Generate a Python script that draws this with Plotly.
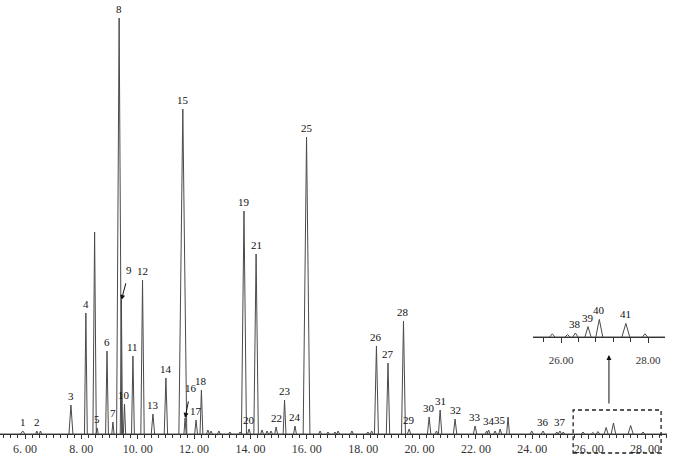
import plotly.graph_objects as go

# ---------------- data ----------------
peak_labels = [str(i) for i in range(1, 42)]
peak_times = [5.92, 6.42, 7.63, 8.16, 8.56, 8.91, 9.12, 9.34, 9.42, 9.53,
              9.83, 10.17, 10.54, 11.00, 11.60, 11.68, 12.07, 12.26, 13.77, 13.95,
              14.20, 14.91, 15.21, 15.58, 15.99, 18.47, 18.88, 19.43, 19.63, 20.34,
              20.73, 21.26, 21.97, 22.45, 22.86, 24.38, 24.98, 26.33, 26.62, 26.88, 27.49]
peak_heights = [3, 3, 29, 121, 6, 83, 12, 416, 134, 30,
                78, 154, 20, 56, 325, 16, 14, 44, 223, 5,
                180, 7, 34, 8, 297, 88, 71, 113, 5, 17,
                24, 15, 8, 4, 5, 3, 3, 2.5, 6.5, 11, 8.5]
peak_halfwidths = [0.08, 0.04, 0.07, 0.05, 0.04, 0.05, 0.04, 0.09, 0.04, 0.04,
                   0.05, 0.06, 0.06, 0.06, 0.14, 0.04, 0.05, 0.05, 0.09, 0.05,
                   0.08, 0.05, 0.05, 0.05, 0.12, 0.07, 0.06, 0.07, 0.06, 0.06,
                   0.06, 0.06, 0.06, 0.05, 0.05, 0.06, 0.06, 0.06, 0.07, 0.08, 0.09]

# unlabeled peaks / baseline bumps
minor_times = [6.55, 8.47, 12.49, 12.60, 12.88, 13.27, 13.63, 14.41, 14.59, 14.73,
               16.47, 16.75, 17.00, 17.11, 17.60, 18.17, 18.30, 20.60, 22.38, 22.68,
               23.14, 23.98, 24.87, 25.10, 25.80, 26.15, 27.93]
minor_heights = [3, 202, 4, 3, 3, 2, 2, 4, 3, 3,
                 3, 2, 2, 3, 3, 2, 3, 3, 3, 3,
                 17, 3, 2, 2, 2, 1.5, 2]
minor_halfwidths = [0.04, 0.06, 0.05, 0.05, 0.05, 0.05, 0.05, 0.05, 0.05, 0.05,
                    0.05, 0.05, 0.05, 0.05, 0.05, 0.05, 0.05, 0.05, 0.05, 0.05,
                    0.05, 0.06, 0.05, 0.05, 0.06, 0.06, 0.06]

main_tick_vals = [6, 8, 10, 12, 14, 16, 18, 20, 22, 24, 26, 28]
main_tick_text = ["6. 00", "8. 00", "10. 00", "12. 00", "14. 00", "16. 00",
                  "18. 00", "20. 00", "22. 00", "24. 00", "26. 00", "28. 00"]
inset_tick_vals = [26, 28]
inset_tick_text = ["26.00", "28.00"]
inset_labels = ["38", "39", "40", "41"]

# ---------------- build trace ----------------
all_t = peak_times + minor_times
all_h = peak_heights + minor_heights
all_w = peak_halfwidths + minor_halfwidths
order = sorted(range(len(all_t)), key=lambda i: all_t[i])
xs, ys = [], []
for i in order:
    t, h, w = all_t[i], all_h[i], all_w[i]
    xs += [t - w, t, t + w, None]
    ys += [0, h, 0, None]

X_RANGE = [5.113, 28.78]
Y_RANGE = [0, 434]
INSET_X = [25.356, 28.39]
INSET_SCALE = 1.6
LINE = "#4a4a4a"
SERIF = "Liberation Serif, Times New Roman, serif"

fig = go.Figure()
for xa, ya in (("x", "y"), ("x2", "y2")):
    fig.add_trace(go.Scatter(x=[X_RANGE[0], X_RANGE[1]], y=[0, 0], mode="lines",
                             line=dict(color=LINE, width=1), xaxis=xa, yaxis=ya,
                             hoverinfo="skip", showlegend=False))
    fig.add_trace(go.Scatter(x=xs, y=ys, mode="lines", connectgaps=False,
                             line=dict(color=LINE, width=1), xaxis=xa, yaxis=ya,
                             showlegend=False))

annotations = []
arrow_labels = {"9": (8, -30), "16": (6, -30)}
for lab, t, h in zip(peak_labels, peak_times, peak_heights):
    if lab in inset_labels:
        continue
    if lab in arrow_labels:
        ax, ay = arrow_labels[lab]
        annotations.append(dict(x=t, y=h, xref="x", yref="y", text=lab,
                                showarrow=True, ax=ax, ay=ay, arrowhead=2,
                                arrowsize=1, arrowwidth=1, arrowcolor="#111",
                                standoff=0, startstandoff=6,
                                font=dict(family=SERIF, size=11, color="#111")))
    else:
        annotations.append(dict(x=t, y=h, xref="x", yref="y", text=lab,
                                showarrow=False, yanchor="bottom", yshift=1,
                                font=dict(family=SERIF, size=11, color="#111")))
for lab, t, h in zip(peak_labels, peak_times, peak_heights):
    if lab in inset_labels:
        annotations.append(dict(x=t, y=h, xref="x2", yref="y2",
                                text=lab, showarrow=False, yanchor="bottom", yshift=1,
                                font=dict(family=SERIF, size=11, color="#111")))

# arrow from dashed box up to the inset
annotations.append(dict(x=26.72, y=79, xref="x", yref="y", ax=26.72, ay=29,
                        axref="x", ayref="y", text="", showarrow=True,
                        arrowhead=2, arrowsize=1, arrowwidth=1, arrowcolor="#111"))

def px(t):
    return (t - X_RANGE[0]) / (X_RANGE[1] - X_RANGE[0])

shapes = [dict(type="rect", xref="paper", yref="paper",
               x0=px(25.45), x1=px(28.57), y0=-19 / 434, y1=24 / 434,
               line=dict(color="#222", width=1.3, dash="4px,3px"))]

inset_y_bottom = (434 - 337) / 434
inset_y_top = (434 - 290) / 434
inset_h_px = 47

fig.update_layout(
    width=675, height=457,
    margin=dict(l=0, r=8, t=0, b=23),
    paper_bgcolor="white", plot_bgcolor="rgba(0,0,0,0)",
    showlegend=False,
    xaxis=dict(range=X_RANGE, showgrid=False, zeroline=False, showline=True,
               linecolor="#333", linewidth=1, ticks="outside", ticklen=4,
               tickcolor="#333", tickmode="array", tickvals=main_tick_vals,
               ticktext=main_tick_text,
               tickfont=dict(family=SERIF, size=12, color="#333"),
               minor=dict(tickmode="linear", tick0=6, dtick=0.25, ticks="outside",
                          ticklen=3, tickcolor="#333", showgrid=False)),
    yaxis=dict(range=Y_RANGE, visible=False, showgrid=False, zeroline=False),
    xaxis2=dict(domain=[533 / 667, 665 / 667], anchor="y2", range=INSET_X,
                showgrid=False, zeroline=False, showline=True, linecolor="#333",
                linewidth=1, ticks="outside", ticklen=5, tickcolor="#333",
                tickmode="array", tickvals=inset_tick_vals, ticktext=inset_tick_text,
                ticklabelstandoff=8,
                tickfont=dict(family=SERIF, size=11, color="#333"),
                minor=dict(tickmode="linear", tick0=26, dtick=0.4, ticks="outside",
                           ticklen=4, tickcolor="#333", showgrid=False)),
    yaxis2=dict(domain=[inset_y_bottom, inset_y_top], anchor="x2",
                range=[0, inset_h_px / INSET_SCALE], visible=False,
                showgrid=False, zeroline=False),
    annotations=annotations,
    shapes=shapes,
)

fig.write_html("out.html", config={"displayModeBar": False},
               post_script="document.body.style.margin='0';document.body.style.overflow='hidden';")
